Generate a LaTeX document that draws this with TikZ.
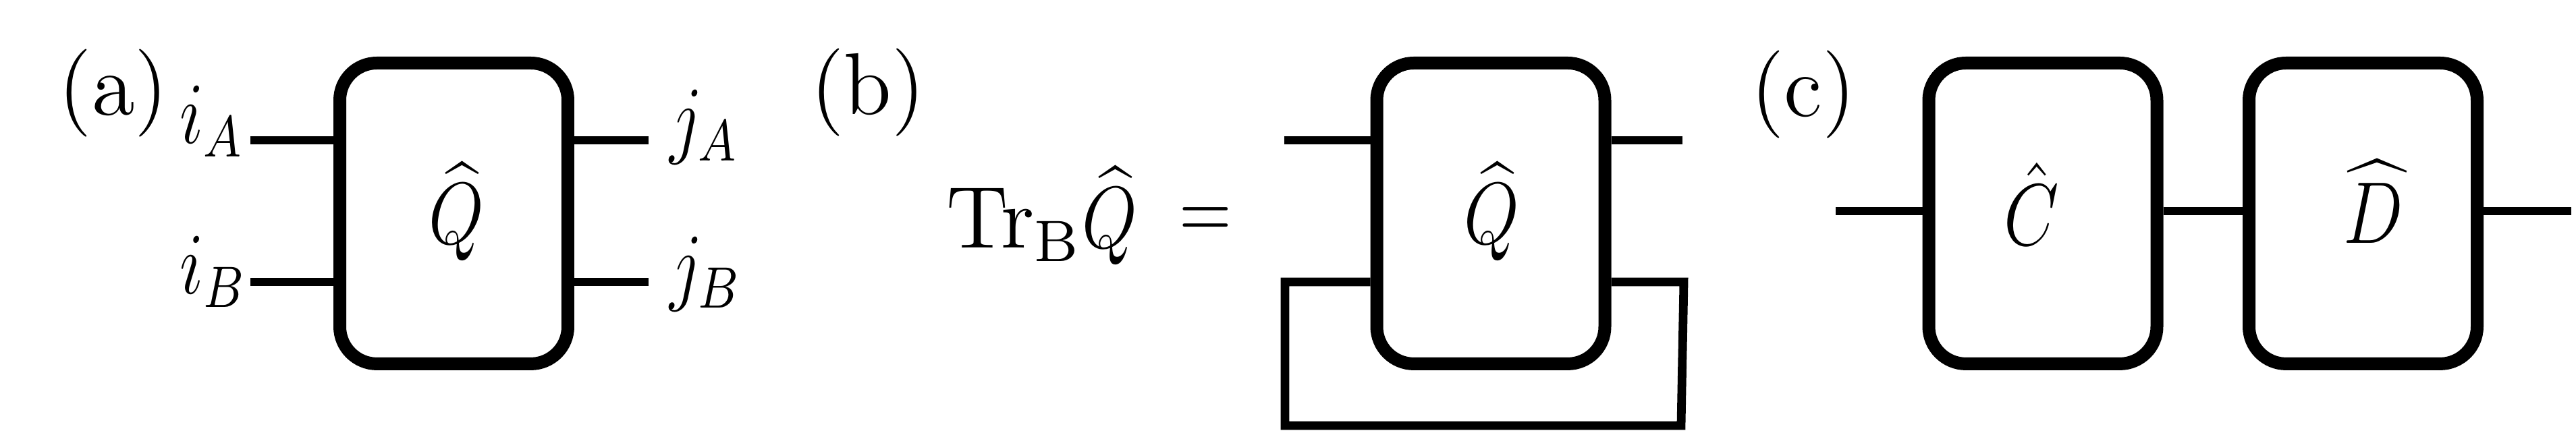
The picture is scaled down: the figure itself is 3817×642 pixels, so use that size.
\documentclass[tikz,border=0pt]{standalone}
\usepackage{graphicx}
\newcommand{\sbx}[1]{\scalebox{1.083}{#1}}
\newcommand{\nbx}[1]{\scalebox{0.88}[1.083]{#1}}
\begin{document}
\begin{tikzpicture}[x=0.1pt,y=-0.1pt,
  op/.style={draw, line width=1.9pt, rounded corners=5.5pt, minimum width=33.8pt, minimum height=44.6pt, inner sep=0pt},
  wire/.style={line width=1.28pt},
  lbl/.style={inner sep=0pt, font=\large},
]
\useasboundingbox (0,0) rectangle (3817,642);
% boxes
\node[op] (qa) at (672.5,316.5) {};
\node[op] (qb) at (2209,316.5) {};
\node[op] (qc) at (3027,316.5) {};
\node[op] (qd) at (3501.5,316.5) {};
% panel labels
\node[lbl] (la) at (168,138) {\sbx{(a)}};
\node[lbl] (lb) at (1286,137) {\sbx{(b)}};
\node[lbl] (lc) at (2672,140) {\sbx{(c)}};
% operator labels
\node[lbl, anchor=base] (tqa) at (676,362) {\nbx{$\widehat{Q}$}};
\node[lbl, anchor=base] (tqb) at (2210,362) {\nbx{$\widehat{Q}$}};
\node[lbl, anchor=base] (tqc) at (3010,364) {\nbx{$\hat{C}$}};
\node[lbl, anchor=base] (tqd) at (3517,361) {\nbx{$\widehat{D}$}};
% index labels
\node[lbl, anchor=base west] (liA) at (264,213) {\nbx{$i_A$}};
\node[lbl, anchor=base west] (liB) at (264,436) {\nbx{$i_B$}};
\node[lbl, anchor=base west] (ljA) at (990,219) {\nbx{$j_A$}};
\node[lbl, anchor=base west] (ljB) at (990,437) {\nbx{$j_B$}};
% trace equation
\node[lbl, anchor=base west] (trq) at (1400,368) {\sbx{$\mathrm{Tr}_{\mathrm{B}}$}\nbx{$\widehat{Q}$}};
\node[lbl] (eq) at (1786,331) {\scalebox{0.85}[1.083]{$=$}};
% wires (a)
\coordinate (aiA) at (371,208);
\coordinate (aiB) at (371,418);
\coordinate (ajA) at (961,208);
\coordinate (ajB) at (961,418);
\draw[wire] (aiA) -- (aiA -| qa.west);
\draw[wire] (aiB) -- (aiB -| qa.west);
\draw[wire] (qa.east |- ajA) -- (ajA);
\draw[wire] (qa.east |- ajB) -- (ajB);
% wires (b)
\coordinate (btl) at (1903,208);
\coordinate (btr) at (2493,208);
\coordinate (bbl) at (1904,418);
\coordinate (bbr) at (2495,418);
\coordinate (bcl) at (1904,631);
\coordinate (bcr) at (2491,631);
\draw[wire] (btl) -- (btl -| qb.west);
\draw[wire] (qb.east |- btr) -- (btr);
\draw[wire, line join=miter] (qb.west |- bbl) -- (bbl) -- (bcl) -- (bcr) -- (bbr) -- (qb.east |- bbr);
% wires (c)
\coordinate (cL) at (2720,313);
\coordinate (cR) at (3810,313);
\draw[wire] (cL) -- (cL -| qc.west);
\draw[wire] (qc.east |- cL) -- (qd.west |- cL);
\draw[wire] (qd.east |- cR) -- (cR);
\end{tikzpicture}
\end{document}
